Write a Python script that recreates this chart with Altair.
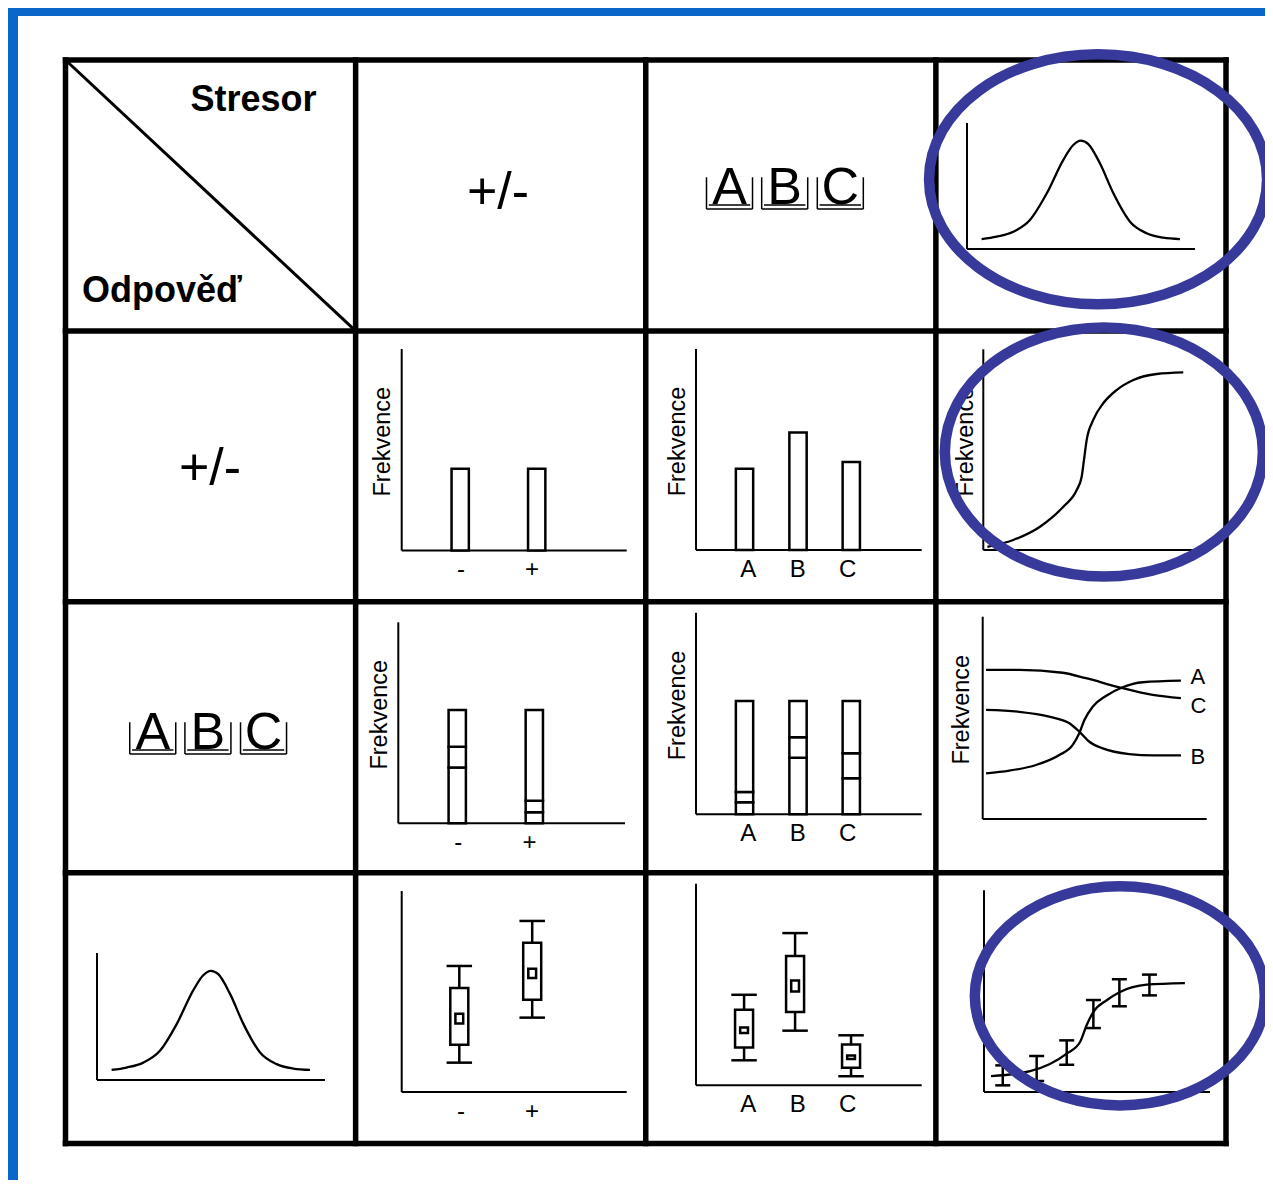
import altair as alt
import pandas as pd

# ====================== DATA ======================
HEAD_STRESSOR = "Stresor"
HEAD_RESPONSE = "Odpověď"
LEVELS_PM = "+/-"
LETTERS = ["A", "B", "C"]
CATS_PM = ["-", "+"]
CATS_ABC = ["A", "B", "C"]
Y_TITLE = "Frekvence"

# bell curve sketch (used in two cells); values in % of axis length
BELL_X = [6.4, 13.0, 20.3, 27.6, 35.0, 42.2, 46.6, 49.9, 53.2, 58.3, 64.2, 71.5, 78.8, 86.1, 93.4]
BELL_Y = [7.9, 9.8, 13.7, 23.0, 44.2, 70.6, 82.5, 86.0, 83.3, 68.0, 44.2, 21.7, 12.5, 9.0, 7.9]

# sigmoid (response +/-, continuous stressor)
SIG_X = [1.8, 13.2, 25.0, 35.3, 41.2, 43.4, 44.4, 45.6, 48.5, 52.9, 58.8, 66.2, 76.5, 88.2]
SIG_Y = [1.6, 5.0, 11.6, 21.6, 29.9, 36.5, 44.8, 54.8, 64.8, 73.1, 79.7, 84.7, 87.7, 88.5]

# simple bars
BARS_PM = [40.6, 40.6]
BARS_ABC = [40.4, 58.4, 43.8]

# stacked bars (segments bottom -> top)
STACK_PM = [[27.7, 10.4, 18.3], [5.5, 5.7, 45.2]]
STACK_ABC = [[6.0, 5.1, 45.1], [28.1, 10.1, 18.0], [17.9, 12.4, 25.9]]

# three response curves (response A/B/C, continuous stressor)
LINE_A_X = [1.5, 11.9, 23.8, 34.2, 40.2, 43.1, 45.4, 49.1, 55.0, 62.5, 71.4, 88.5]
LINE_A_Y = [22.6, 23.9, 26.7, 31.6, 36.6, 42.4, 48.9, 55.5, 60.8, 65.1, 67.6, 68.4]
LINE_B_X = [1.5, 16.3, 29.7, 38.7, 43.1, 47.6, 53.6, 65.4, 75.9, 88.5]
LINE_B_Y = [53.9, 53.0, 50.6, 47.3, 43.2, 38.2, 34.9, 32.1, 31.5, 31.5]
LINE_C_X = [1.5, 16.3, 35.7, 46.1, 61.0, 75.9, 88.5]
LINE_C_Y = [73.7, 73.7, 72.3, 69.6, 65.1, 61.3, 59.7]
LINE_LABEL_Y = [70.0, 30.5, 55.9]  # A, B, C

# box plots: whisker low, q1, mean-box low, mean-box high, q3, whisker high
BOX_PM = {"wlo": [14.6, 37.0], "q1": [23.5, 45.9], "mlo": [34.1, 56.7],
          "mhi": [38.9, 61.3], "q3": [51.7, 74.3], "whi": [62.7, 85.1]}
BOX_ABC = {"wlo": [12.4, 27.1, 4.5], "q1": [18.7, 36.4, 8.7], "mlo": [25.9, 46.5, 13.0],
           "mhi": [28.7, 52.0, 14.8], "q3": [37.5, 64.1, 20.3], "whi": [44.9, 75.5, 24.8]}

# sigmoid with error bars
SIG2_X = [3.1, 20.4, 36.6, 42.5, 45.4, 48.4, 54.3, 60.2, 72.0, 88.9]
SIG2_Y = [7.9, 10.3, 19.0, 24.8, 33.1, 39.7, 45.5, 49.6, 53.2, 54.0]
ERR_X = [8.3, 23.3, 36.6, 48.4, 59.9, 73.2]
ERR_LO = [3.3, 5.5, 13.5, 31.7, 42.5, 47.9]
ERR_HI = [13.2, 17.8, 25.6, 45.6, 55.9, 58.2]

# ====================== LAYOUT / STYLE ======================
M = 8                      # page margin
W, H = 1257, 1172          # drawing area
INK = "black"
RING = "#373a9a"
BLUE = "#0a66c8"
FONT = "Liberation Sans"

GRID_X = (65.5, 1226.0)    # table outer edges (page px)
GRID_Y = (60.0, 1143.5)

# mini chart axes: x0, x1, y0 (origin), y1 (top) in page px
PANEL = {
    "bell_top": (967, 1195, 249, 123),
    "bell_left": (97, 325, 1080, 953),
    "bars_pm": (401.7, 626.7, 550.5, 349),
    "bars_abc": (696, 921.7, 550, 349),
    "sigmoid": (983.3, 1210, 550, 349.3),
    "stack_pm": (398.3, 625, 823.3, 622.3),
    "stack_abc": (696, 921.7, 814.3, 612.7),
    "lines": (982.7, 1206.7, 819, 616.7),
    "box_pm": (401.7, 626.7, 1092, 891),
    "box_abc": (696, 921.7, 1085.3, 883.7),
    "sig_err": (984, 1210, 1092, 890.3),
}
POS_PM_BAR = [26, 60]
POS_PM_BOX = [25.6, 58]
POS_PM_LAB = [26.4, 57.9]
POS_ABC_BAR = [21.5, 45.2, 68.8]
POS_ABC_BOX = [21.3, 43.9, 68.7]
POS_ABC_LAB = [23.2, 45.1, 67.2]


def lin(domain, rng):
    return alt.Scale(domain=domain, range=rng, nice=False, zero=False, padding=0)


def panel_scales(name):
    x0, x1, y0, y1 = PANEL[name]
    return lin([0, 100], [x0 - M, x1 - M]), lin([0, 100], [y0 - M, y1 - M])


def X(f, s):
    return alt.X(f, scale=s, axis=None)


def Y(f, s):
    return alt.Y(f, scale=s, axis=None)


def axes_layer(xs, ys):
    df = pd.DataFrame({"x": [0, 0], "y": [0, 0], "x2": [100, 0], "y2": [0, 100]})
    return alt.Chart(df).mark_rule(color=INK, strokeWidth=2).encode(
        x=X("x:Q", xs), y=Y("y:Q", ys), x2="x2:Q", y2="y2:Q")


def ytitle_layer(xs, ys, dy=-11.5):
    df = pd.DataFrame({"x": [0], "y": [54], "t": [Y_TITLE]})
    return alt.Chart(df).mark_text(font=FONT, fontSize=23.5, angle=270, align="center",
                                   baseline="alphabetic", dy=dy, color=INK).encode(
        x=X("x:Q", xs), y=Y("y:Q", ys), text="t:N")


def cat_labels(xs, ys, cats, positions):
    df = pd.DataFrame({"pos": positions, "lab": cats, "base": [0] * len(cats)})
    return alt.Chart(df).mark_text(font=FONT, fontSize=24, align="center",
                                   baseline="alphabetic", dy=26.5, color=INK).encode(
        x=X("pos:Q", xs), y=Y("base:Q", ys), text="lab:N")


def curve(xs, ys, xv, yv, width=2.3):
    df = pd.DataFrame({"x": xv, "y": yv})
    return alt.Chart(df).mark_line(color=INK, strokeWidth=width, interpolate="monotone").encode(
        x=X("x:Q", xs), y=Y("y:Q", ys))


def simple_bars(xs, ys, positions, values):
    df = pd.DataFrame({"pos": positions, "lo": [0] * len(values), "hi": values})
    return alt.Chart(df).mark_bar(orient="vertical", size=17.3, fill="white", stroke=INK,
                                  strokeWidth=2.5).encode(
        x=X("pos:Q", xs), y=Y("lo:Q", ys), y2="hi:Q")


def stacked_bars(xs, ys, positions, segments):
    rows = []
    for p, segs in zip(positions, segments):
        lo = 0.0
        for s in segs:
            rows.append({"pos": p, "lo": lo, "hi": lo + s})
            lo += s
    df = pd.DataFrame(rows)
    return alt.Chart(df).mark_bar(orient="vertical", size=17.3, fill="white", stroke=INK,
                                  strokeWidth=2.5).encode(
        x=X("pos:Q", xs), y=Y("lo:Q", ys), y2="hi:Q")


def box_layers(xs, ys, positions, stats, box_w=18, mean_w=7.8, cap_w=25.5):
    df = pd.DataFrame(dict(pos=positions, **stats))
    base = alt.Chart(df).encode(x=X("pos:Q", xs))
    whisk = base.mark_rule(color=INK, strokeWidth=2.5).encode(y=Y("wlo:Q", ys), y2="whi:Q")
    cap_lo = base.mark_tick(orient="horizontal", size=cap_w, thickness=2.5, color=INK,
                            opacity=1).encode(y=Y("wlo:Q", ys))
    cap_hi = base.mark_tick(orient="horizontal", size=cap_w, thickness=2.5, color=INK,
                            opacity=1).encode(y=Y("whi:Q", ys))
    box = base.mark_bar(orient="vertical", size=box_w, fill="white", stroke=INK,
                        strokeWidth=2.5).encode(y=Y("q1:Q", ys), y2="q3:Q")
    mean = base.mark_bar(orient="vertical", size=mean_w, fill="white", stroke=INK,
                         strokeWidth=2.5).encode(y=Y("mlo:Q", ys), y2="mhi:Q")
    return [whisk, cap_lo, cap_hi, box, mean]


panels = []

# bell curves
for name in ["bell_top", "bell_left"]:
    xs, ys = panel_scales(name)
    panels.append(alt.layer(axes_layer(xs, ys), curve(xs, ys, BELL_X, BELL_Y)))

# bars +/- x +/-
xs, ys = panel_scales("bars_pm")
panels.append(alt.layer(axes_layer(xs, ys), simple_bars(xs, ys, POS_PM_BAR, BARS_PM),
                        cat_labels(xs, ys, CATS_PM, POS_PM_LAB), ytitle_layer(xs, ys)))

# bars ABC x +/-
xs, ys = panel_scales("bars_abc")
panels.append(alt.layer(axes_layer(xs, ys), simple_bars(xs, ys, POS_ABC_BAR, BARS_ABC),
                        cat_labels(xs, ys, CATS_ABC, POS_ABC_LAB), ytitle_layer(xs, ys)))

# sigmoid
xs, ys = panel_scales("sigmoid")
panels.append(alt.layer(axes_layer(xs, ys), curve(xs, ys, SIG_X, SIG_Y),
                        ytitle_layer(xs, ys, dy=-10)))

# stacked +/- x ABC
xs, ys = panel_scales("stack_pm")
panels.append(alt.layer(axes_layer(xs, ys), stacked_bars(xs, ys, POS_PM_BAR, STACK_PM),
                        cat_labels(xs, ys, CATS_PM, POS_PM_LAB), ytitle_layer(xs, ys)))

# stacked ABC x ABC
xs, ys = panel_scales("stack_abc")
panels.append(alt.layer(axes_layer(xs, ys), stacked_bars(xs, ys, POS_ABC_BAR, STACK_ABC),
                        cat_labels(xs, ys, CATS_ABC, POS_ABC_LAB), ytitle_layer(xs, ys)))

# three curves
xs, ys = panel_scales("lines")
line_rows = []
for s, xv, yv in [("A", LINE_A_X, LINE_A_Y), ("B", LINE_B_X, LINE_B_Y), ("C", LINE_C_X, LINE_C_Y)]:
    for xx, yy in zip(xv, yv):
        line_rows.append({"s": s, "x": xx, "y": yy})
lines_df = pd.DataFrame(line_rows)
lab_df = pd.DataFrame({"s": CATS_ABC, "x": [LINE_A_X[-1], LINE_B_X[-1], LINE_C_X[-1]],
                       "y": LINE_LABEL_Y})
panels.append(alt.layer(
    axes_layer(xs, ys),
    alt.Chart(lines_df).mark_line(color=INK, strokeWidth=2.3, interpolate="monotone").encode(
        x=X("x:Q", xs), y=Y("y:Q", ys), detail="s:N"),
    alt.Chart(lab_df).mark_text(font=FONT, fontSize=22, align="left", baseline="middle",
                                dx=9.5, color=INK).encode(
        x=X("x:Q", xs), y=Y("y:Q", ys), text="s:N"),
    ytitle_layer(xs, ys, dy=-13.4)))

# box plots +/-
xs, ys = panel_scales("box_pm")
panels.append(alt.layer(axes_layer(xs, ys), *box_layers(xs, ys, POS_PM_BOX, BOX_PM),
                        cat_labels(xs, ys, CATS_PM, POS_PM_LAB)))

# box plots ABC
xs, ys = panel_scales("box_abc")
panels.append(alt.layer(axes_layer(xs, ys), *box_layers(xs, ys, POS_ABC_BOX, BOX_ABC),
                        cat_labels(xs, ys, CATS_ABC, POS_ABC_LAB)))

# sigmoid with error bars
xs, ys = panel_scales("sig_err")
err_df = pd.DataFrame({"x": ERR_X, "lo": ERR_LO, "hi": ERR_HI})
eb = alt.Chart(err_df).encode(x=X("x:Q", xs))
panels.append(alt.layer(
    axes_layer(xs, ys), curve(xs, ys, SIG2_X, SIG2_Y),
    eb.mark_rule(color=INK, strokeWidth=2.5).encode(y=Y("lo:Q", ys), y2="hi:Q"),
    eb.mark_tick(orient="horizontal", size=15, thickness=2.5, color=INK, opacity=1).encode(
        y=Y("lo:Q", ys)),
    eb.mark_tick(orient="horizontal", size=15, thickness=2.5, color=INK, opacity=1).encode(
        y=Y("hi:Q", ys))))

# ====================== TABLE (cell units) ======================
tx = lin([0, 4], [GRID_X[0] - M, GRID_X[1] - M])
ty = lin([0, 4], [GRID_Y[0] - M, GRID_Y[1] - M])

grid_rows = [{"x": i, "y": 0, "x2": i, "y2": 4} for i in range(5)]
grid_rows += [{"x": 0, "y": j, "x2": 4, "y2": j} for j in range(5)]
grid = alt.Chart(pd.DataFrame(grid_rows)).mark_rule(
    color=INK, strokeWidth=5.5, strokeCap="square").encode(
    x=X("x:Q", tx), y=Y("y:Q", ty), x2="x2:Q", y2="y2:Q")
diag = alt.Chart(pd.DataFrame({"x": [0], "y": [0], "x2": [1], "y2": [1]})).mark_rule(
    color=INK, strokeWidth=3).encode(x=X("x:Q", tx), y=Y("y:Q", ty), x2="x2:Q", y2="y2:Q")

heads = alt.Chart(pd.DataFrame({"x": [0.4308, 0.0569], "y": [0.1883, 0.8923],
                                "t": [HEAD_STRESSOR, HEAD_RESPONSE]})).mark_text(
    font=FONT, fontSize=36, fontWeight="bold", align="left", baseline="alphabetic",
    color=INK).encode(x=X("x:Q", tx), y=Y("y:Q", ty), text="t:N")

pm = alt.Chart(pd.DataFrame({"x": [1.4907, 0.498], "y": [0.55, 1.569],
                             "t": [LEVELS_PM, LEVELS_PM]})).mark_text(
    font=FONT, fontSize=52, align="center", baseline="alphabetic", color=INK).encode(
    x=X("x:Q", tx), y=Y("y:Q", ty), text="t:N")

KEY_CX = [0.2887, 0.4789, 0.6706]
KEY_HALF = 0.0793
KEY_TOP, KEY_BOTTOM, KEY_INNER, KEY_BASE = 0.433, 0.550, 0.535, 0.5316
ABC_CELLS = [(0, 2, 0.0, 0.0), (2, 0, 0.012, 0.012)]  # row, col, shift x, shift y

key_txt, key_lines = [], []
for r, c, sx, sy in ABC_CELLS:
    for L, kc in zip(LETTERS, KEY_CX):
        cx = c + kc + sx
        key_txt.append({"x": cx, "y": r + KEY_BASE + sy, "t": L})
        l, rr = cx - KEY_HALF, cx + KEY_HALF
        top, bot, inn = r + KEY_TOP + sy, r + KEY_BOTTOM + sy, r + KEY_INNER + sy
        key_lines += [
            {"x": l, "y": top, "x2": l, "y2": bot},
            {"x": rr, "y": top, "x2": rr, "y2": bot},
            {"x": l, "y": bot, "x2": rr, "y2": bot},
            {"x": l + 0.008, "y": inn, "x2": rr - 0.008, "y2": inn},
        ]
keys_t = alt.Chart(pd.DataFrame(key_txt)).mark_text(
    font=FONT, fontSize=52, align="center", baseline="alphabetic", color=INK).encode(
    x=X("x:Q", tx), y=Y("y:Q", ty), text="t:N")
keys_l = alt.Chart(pd.DataFrame(key_lines)).mark_rule(color=INK, strokeWidth=1.5).encode(
    x=X("x:Q", tx), y=Y("y:Q", ty), x2="x2:Q", y2="y2:Q")

table = alt.layer(grid, diag, heads, pm, keys_l, keys_t)

# ellipses (highlight rings) in cell units
K = 0.5523


def ellipse_path(k):
    return (f"M 1 0 C 1 {K*k:.4f} {K:.4f} {k:.4f} 0 {k:.4f} "
            f"C {-K:.4f} {k:.4f} -1 {K*k:.4f} -1 0 "
            f"C -1 {-K*k:.4f} {-K:.4f} {-k:.4f} 0 {-k:.4f} "
            f"C {K:.4f} {-k:.4f} 1 {-K*k:.4f} 1 0 Z")


RINGS = [(3.559, 0.4404, 169, 125), (3.579, 1.447, 159, 124.5), (3.634, 3.455, 145, 109.5)]
ring_layers = []
for cx, cy, rx, ry in RINGS:
    ring_layers.append(alt.Chart(pd.DataFrame({"x": [cx], "y": [cy]})).mark_point(
        shape=ellipse_path(ry / rx), size=(2 * rx) ** 2, filled=False, color=RING,
        strokeWidth=10.5, opacity=1).encode(x=X("x:Q", tx), y=Y("y:Q", ty)))
rings = alt.layer(*ring_layers)

# ====================== PAGE FRAME (page px) ======================
px_s = lin([0, 1273], [-M, 1273 - M])
py_s = lin([0, 1188], [-M, 1188 - M])
bars_df = pd.DataFrame({"x": [8, 8], "x2": [1273, 18], "y": [6, 6], "y2": [16, 1188]})
page = alt.Chart(bars_df).mark_rect(color=BLUE).encode(
    x=X("x:Q", px_s), x2="x2:Q", y=Y("y:Q", py_s), y2="y2:Q")

chart = alt.layer(page, table, *panels, rings).resolve_scale(
    x="independent", y="independent").properties(
    width=W, height=H, padding=0, autosize=alt.AutoSizeParams(type="none"),
    background="white").configure_view(stroke=None)

chart.save("out.html", embed_options={"renderer": "svg", "actions": False})
